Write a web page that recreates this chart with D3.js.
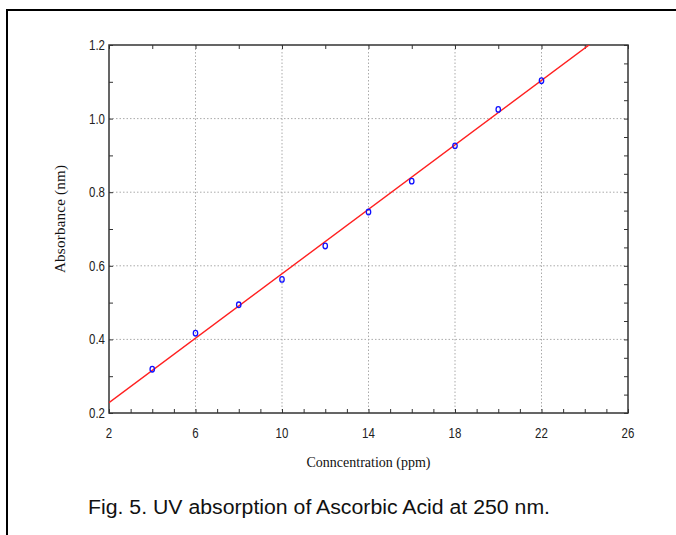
<!DOCTYPE html>
<html>
<head>
<meta charset="utf-8">
<script src="https://cdn.jsdelivr.net/npm/d3@7/dist/d3.min.js"></script>
<style>
	body { margin: 0; background: #fff; }
	svg { display: block; }
</style>
</head>
<body>
<div id="chart"></div>
<script>
"use strict";

// values
var concentration = [4, 6, 8, 10, 12, 14, 16, 18, 20, 22];
var absorbance = [0.319, 0.417, 0.494, 0.563, 0.654, 0.746, 0.830, 0.926, 1.025, 1.103];
var fitX = [2, 26];
var fitY = [0.228, 1.279];
var xTicks = [2, 6, 10, 14, 18, 22, 26];
var yTicks = [0.2, 0.4, 0.6, 0.8, 1.0, 1.2];

var width = 676, height = 535;
var margin = {top: 45, right: 48, bottom: 122, left: 109};
var w = width - margin.left - margin.right;
var h = height - margin.top - margin.bottom;

var svg = d3.select("#chart").append("svg")
	.attr("width", width)
	.attr("height", height);

// outer frame (only top and left are visible)
svg.append("path")
	.attr("d", "M7,535V10H676")
	.attr("fill", "none")
	.attr("stroke", "#000")
	.attr("stroke-width", 2);

var x = d3.scaleLinear().domain([2, 26]).range([0, w]);
var y = d3.scaleLinear().domain([0.2, 1.2]).range([h, 0]);

var g = svg.append("g")
	.attr("transform", "translate(" + margin.left + "," + margin.top + ")");

// dotted grid
g.append("g").selectAll("line")
	.data(xTicks.slice(1, -1))
	.enter().append("line")
		.attr("x1", function(d) { return x(d); })
		.attr("x2", function(d) { return x(d); })
		.attr("y1", 0).attr("y2", h)
		.attr("stroke", "#aaa")
		.attr("stroke-dasharray", "1.5,2");
g.append("g").selectAll("line")
	.data(yTicks.slice(1, -1))
	.enter().append("line")
		.attr("y1", function(d) { return y(d); })
		.attr("y2", function(d) { return y(d); })
		.attr("x1", 0).attr("x2", w)
		.attr("stroke", "#aaa")
		.attr("stroke-dasharray", "1.5,2");

// inward ticks on all four sides
function inner(axis) {
	return axis.tickSize(-4).tickFormat("");
}
g.append("g").attr("class", "minor")
	.attr("transform", "translate(0," + h + ")")
	.call(inner(d3.axisBottom(x).tickValues(d3.range(2, 27, 1))));
g.append("g").attr("class", "minor")
	.call(inner(d3.axisTop(x).tickValues(d3.range(2, 27, 2))));
g.append("g").attr("class", "minor")
	.call(inner(d3.axisLeft(y).tickValues(d3.range(2, 13, 1).map(function(d) { return d / 10; }))));
g.append("g").attr("class", "minor")
	.attr("transform", "translate(" + w + ",0)")
	.call(inner(d3.axisRight(y).tickValues(d3.range(4, 25, 1).map(function(d) { return d / 20; }))));

// tick labels, narrow like the original
var tickFont = "'Liberation Sans', Arial, sans-serif";
g.append("g").selectAll("text")
	.data(xTicks)
	.enter().append("text")
		.attr("transform", function(d) { return "translate(" + x(d) + "," + (h + 25) + ") scale(0.82,1)"; })
		.attr("text-anchor", "middle")
		.style("font-family", tickFont)
		.style("font-size", "14px")
		.attr("fill", "#222")
		.text(function(d) { return d; });
g.append("g").selectAll("text")
	.data(yTicks)
	.enter().append("text")
		.attr("transform", function(d) { return "translate(-4," + (y(d) + 5) + ") scale(0.82,1)"; })
		.attr("text-anchor", "end")
		.style("font-family", tickFont)
		.style("font-size", "14px")
		.attr("fill", "#222")
		.text(function(d) { return d3.format(".1f")(d); });

g.selectAll(".minor path").remove();
g.selectAll(".minor line").attr("stroke", "#333");

// plot box
g.append("rect")
	.attr("width", w).attr("height", h)
	.attr("fill", "none")
	.attr("stroke", "#333")
	.attr("stroke-width", 1.5);

// fit line, clipped to plot area
g.append("clipPath").attr("id", "clip")
	.append("rect").attr("width", w).attr("height", h);
var line = d3.line()
	.x(function(d) { return x(d[0]); })
	.y(function(d) { return y(d[1]); });
g.append("path")
	.datum(d3.zip(fitX, fitY))
	.attr("clip-path", "url(#clip)")
	.attr("d", line)
	.attr("fill", "none")
	.attr("stroke", "#ff2020")
	.attr("stroke-width", 1.4);

// data points
g.append("g").selectAll("ellipse")
	.data(d3.zip(concentration, absorbance))
	.enter().append("ellipse")
		.attr("cx", function(d) { return x(d[0]); })
		.attr("cy", function(d) { return y(d[1]); })
		.attr("rx", 2.2)
		.attr("ry", 2.8)
		.attr("fill", "none")
		.attr("stroke", "#1010ff")
		.attr("stroke-width", 1.3);

// axis titles
var serif = "'Liberation Serif', 'Times New Roman', serif";
g.append("text")
	.attr("x", w / 2)
	.attr("y", h + 54)
	.attr("text-anchor", "middle")
	.style("font-family", serif)
	.style("font-size", "15px")
	.attr("textLength", 124)
	.attr("lengthAdjust", "spacingAndGlyphs")
	.attr("fill", "#111")
	.text("Conncentration (ppm)");
g.append("text")
	.attr("transform", "translate(-44," + (h / 2 - 10) + ") rotate(-90)")
	.attr("text-anchor", "middle")
	.style("font-family", serif)
	.style("font-size", "15px")
	.attr("textLength", 108)
	.attr("fill", "#111")
	.text("Absorbance (nm)");

// caption
svg.append("text")
	.attr("x", 88)
	.attr("y", 514)
	.style("font-family", "'Liberation Sans', Arial, sans-serif")
	.style("font-size", "20px")
	.attr("textLength", 462)
	.attr("lengthAdjust", "spacingAndGlyphs")
	.attr("fill", "#111")
	.text("Fig. 5. UV absorption of Ascorbic Acid at 250 nm.");
</script>
</body>
</html>
